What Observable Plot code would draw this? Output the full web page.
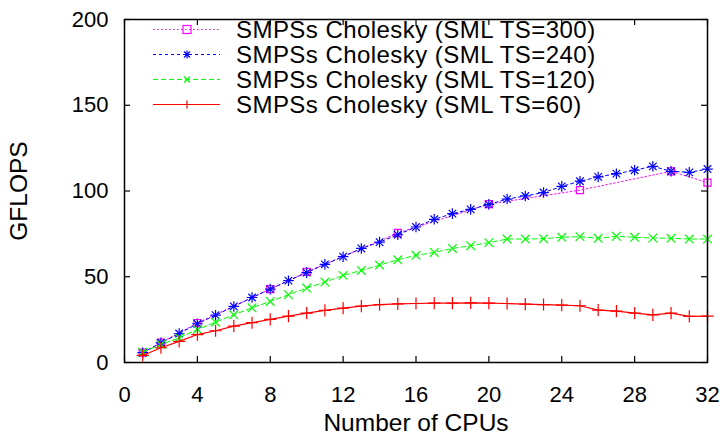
<!DOCTYPE html>
<html>
<head>
<meta charset="utf-8">
<script src="https://cdn.jsdelivr.net/npm/d3@7"></script>
<script src="https://cdn.jsdelivr.net/npm/@observablehq/plot@0.6"></script>
<style>
  body { margin: 0; background: white; }
  #wrap { position: relative; width: 726px; height: 435px; font-family: "Liberation Sans", Arial, sans-serif; }
  #legend { position: absolute; left: 150px; top: 17px; }
  .row { display: flex; align-items: center; height: 25px; }
  .row svg { width: 74px; height: 25px; flex: none; }
  .row span { margin-left: 12px; font-size: 24px; letter-spacing: 0.45px; line-height: 24px; color: #000; white-space: nowrap; }
</style>
</head>
<body>
<div id="wrap"></div>
<script>
// ---- data ----
const cpus = d3.range(1, 33);
const ts60 = [4.1, 8.6, 12.3, 16.3, 18.5, 21.2, 23.2, 25.1, 27.0, 28.8, 30.4, 31.7, 32.9, 33.7, 34.2, 34.4,
              34.6, 34.6, 34.8, 34.6, 34.4, 34.0, 33.8, 33.5, 33.1, 30.5, 30.0, 28.8, 27.8, 28.8, 26.9, 27.0];
const ts120 = [6.0, 10.5, 14.4, 19.3, 23.5, 27.8, 31.9, 35.6, 39.5, 43.4, 46.9, 50.8, 53.7, 56.8, 59.9, 62.5,
               64.2, 66.5, 68.1, 69.9, 72.0, 72.0, 72.2, 73.0, 73.4, 72.4, 73.6, 73.0, 72.6, 72.4, 72.0, 72.0];
const ts240 = [5.7, 11.5, 16.9, 22.6, 27.6, 32.7, 37.9, 42.8, 47.7, 52.4, 57.2, 61.7, 66.5, 70.2, 74.5, 79.0,
               83.5, 86.8, 89.3, 92.2, 95.3, 97.1, 99.1, 102.7, 105.7, 108.2, 110.1, 112.1, 114.4, 111.5, 110.9, 112.8];
const cpus300 = [1, 2, 4, 8, 10, 15, 20, 25, 30, 32];
const ts300 = [5.7, 11.6, 23.0, 42.8, 52.8, 75.5, 92.4, 100.5, 111.5, 104.9];
const xTicks = [0, 4, 8, 12, 16, 20, 24, 28, 32];
const yTicks = [0, 50, 100, 150, 200];
const seriesNames = ["SMPSs Cholesky (SML TS=300)", "SMPSs Cholesky (SML TS=240)",
                     "SMPSs Cholesky (SML TS=120)", "SMPSs Cholesky (SML TS=60)"];

const toRows = (xs, ys) => xs.map((x, i) => ({x, y: ys[i]}));
const d300 = toRows(cpus300, ts300);
const d240 = toRows(cpus, ts240);
const d120 = toRows(cpus, ts120);
const d60 = toRows(cpus, ts60);

const W = 726, H = 435, mL = 124, mR = 19, mT = 19, mB = 73;
const innerW = W - mL - mR, innerH = H - mT - mB, tk = 6;

const chart = Plot.plot({
  width: W, height: H,
  marginLeft: mL, marginRight: mR, marginTop: mT, marginBottom: mB,
  style: {fontFamily: '"Liberation Sans", Arial, sans-serif', fontSize: "22px", background: "white", color: "black"},
  x: {domain: [0, 32]},
  y: {domain: [0, 200]},
  marks: [
    Plot.axisX(xTicks, {tickSize: 0, tickPadding: 24, fontSize: 22, label: null}),
    Plot.axisX({tickSize: 0, ticks: [], label: "Number of CPUs", labelAnchor: "center", labelArrow: "none", labelOffset: 68, fontSize: 24.5}),
    Plot.axisY(yTicks, {tickSize: 0, tickPadding: 16, fontSize: 22, label: null}),
    Plot.axisY({tickSize: 0, ticks: [], label: "GFLOPS", labelAnchor: "center", labelArrow: "none", labelOffset: 115, fontSize: 24.5}),
    // inward ticks on all sides
    Plot.tickX(xTicks, {x: d => d, stroke: "black", strokeWidth: 1.2, insetTop: innerH - tk}),
    Plot.tickX(xTicks, {x: d => d, stroke: "black", strokeWidth: 1.2, insetBottom: innerH - tk}),
    Plot.tickY(yTicks, {y: d => d, stroke: "black", strokeWidth: 1.2, insetRight: innerW - tk}),
    Plot.tickY(yTicks, {y: d => d, stroke: "black", strokeWidth: 1.2, insetLeft: innerW - tk}),
    // series
    Plot.line(d300, {x: "x", y: "y", stroke: "#ff00ff", strokeWidth: 1, strokeDasharray: "1.5,2.5"}),
    Plot.dot(d300, {x: "x", y: "y", stroke: "#ff00ff", symbol: "square", r: 4, strokeWidth: 1.2}),
    Plot.line(d240, {x: "x", y: "y", stroke: "#0000ff", strokeWidth: 1, strokeDasharray: "3,3"}),
    Plot.dot(d240, {x: "x", y: "y", stroke: "#0000ff", symbol: "plus", r: 3.5, strokeWidth: 1.2}),
    Plot.dot(d240, {x: "x", y: "y", stroke: "#0000ff", symbol: "times", r: 3.5, strokeWidth: 1.2}),
    Plot.line(d120, {x: "x", y: "y", stroke: "#00ff00", strokeWidth: 1, strokeDasharray: "5,3"}),
    Plot.dot(d120, {x: "x", y: "y", stroke: "#00ff00", symbol: "times", r: 4, strokeWidth: 1.2}),
    Plot.line(d60, {x: "x", y: "y", stroke: "#ff0000", strokeWidth: 1.2}),
    Plot.dot(d60, {x: "x", y: "y", stroke: "#ff0000", symbol: "plus", r: 4, strokeWidth: 1.2}),
    Plot.frame({stroke: "black", strokeWidth: 1.5})
  ]
});

const wrap = document.getElementById("wrap");
wrap.appendChild(chart);

// legend (inside plot area, top-left)
const legendStyles = [
  {color: "#ff00ff", dash: "1.5,2.5", marker: "square"},
  {color: "#0000ff", dash: "3,3", marker: "asterisk"},
  {color: "#00ff00", dash: "5,3", marker: "times"},
  {color: "#ff0000", dash: null, marker: "plus"}
];
function markerPath(kind) {
  const c = 37, m = 12.5, r = 4;
  if (kind === "square") return `<rect x="${c - r}" y="${m - r}" width="${2 * r}" height="${2 * r}" fill="none"/>`;
  const plus = `<path d="M${c - r},${m}H${c + r}M${c},${m - r}V${m + r}"/>`;
  const times = `<path d="M${c - 3},${m - 3}L${c + 3},${m + 3}M${c - 3},${m + 3}L${c + 3},${m - 3}"/>`;
  if (kind === "plus") return plus;
  if (kind === "times") return times;
  return plus + times;
}
const legend = document.createElement("div");
legend.id = "legend";
seriesNames.forEach((name, i) => {
  const s = legendStyles[i];
  const row = document.createElement("div");
  row.className = "row";
  row.innerHTML = `<svg viewBox="0 0 74 25"><g stroke="${s.color}" stroke-width="1.2" fill="none">
      <line x1="3" x2="70" y1="12.5" y2="12.5" ${s.dash ? `stroke-dasharray="${s.dash}"` : ""}/>
      ${markerPath(s.marker)}</g></svg><span>${name}</span>`;
  legend.appendChild(row);
});
wrap.appendChild(legend);
</script>
</body>
</html>
